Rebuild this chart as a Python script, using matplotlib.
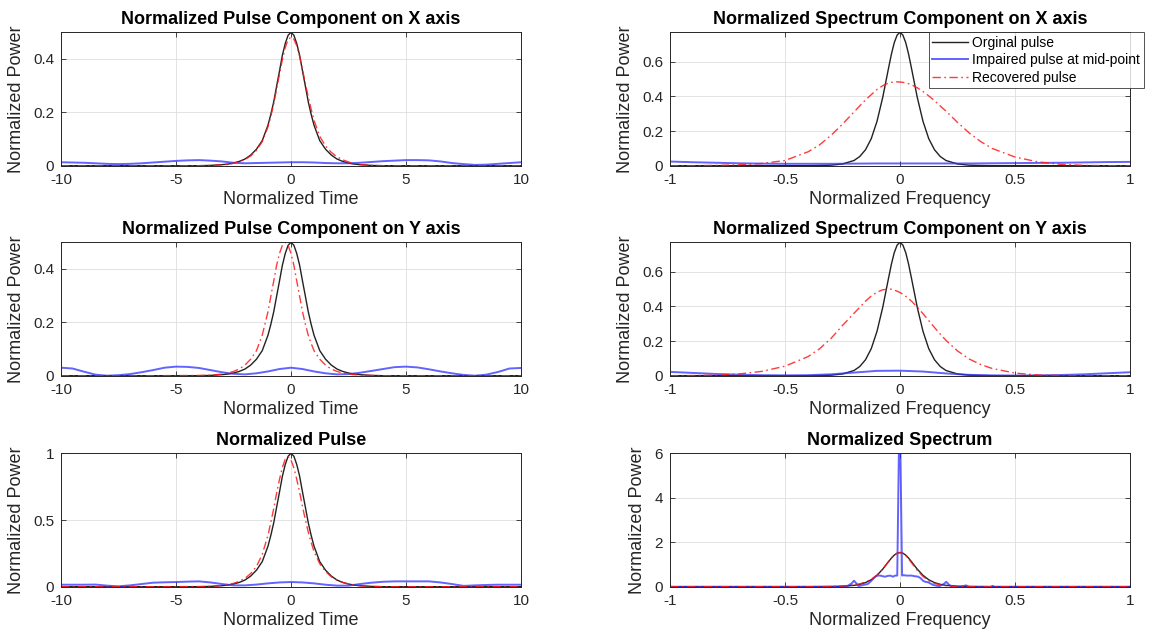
import matplotlib
matplotlib.use("Agg")
import matplotlib.pyplot as plt

plt.rcParams['font.family'] = ['Liberation Sans', 'DejaVu Sans']
plt.rcParams['axes.unicode_minus'] = False

# ---------------- time domain ----------------
t_grid = [-10, -6, -4, -3.5, -3, -2.75, -2.5, -2.25, -2, -1.75, -1.5, -1.25, -1,
          -0.875, -0.75, -0.625, -0.5, -0.375, -0.25, -0.125, 0,
          0.125, 0.25, 0.375, 0.5, 0.625, 0.75, 0.875, 1,
          1.25, 1.5, 1.75, 2, 2.25, 2.5, 2.75, 3, 3.5, 4, 6, 10]

pulse_x_orig = [0, 0, 0, 0.001, 0.004, 0.006, 0.01, 0.016, 0.025, 0.04, 0.062, 0.094, 0.152,
                0.193, 0.24, 0.298, 0.355, 0.414, 0.458, 0.489, 0.5,
                0.489, 0.458, 0.414, 0.355, 0.298, 0.24, 0.193, 0.152,
                0.094, 0.062, 0.04, 0.025, 0.016, 0.01, 0.006, 0.004, 0.001, 0, 0, 0]
pulse_x_rec = [0, 0, 0, 0.001, 0.003, 0.005, 0.009, 0.015, 0.023, 0.037, 0.058, 0.09, 0.146,
               0.186, 0.232, 0.288, 0.343, 0.398, 0.443, 0.472, 0.482,
               0.474, 0.45, 0.41, 0.36, 0.308, 0.258, 0.212, 0.17,
               0.11, 0.074, 0.05, 0.033, 0.022, 0.014, 0.008, 0.004, 0.001, 0, 0, 0]

pulse_y_orig = [0, 0, 0, 0.001, 0.004, 0.006, 0.01, 0.016, 0.025, 0.04, 0.062, 0.094, 0.152,
                0.193, 0.24, 0.298, 0.355, 0.414, 0.458, 0.489, 0.5,
                0.489, 0.458, 0.414, 0.355, 0.298, 0.24, 0.193, 0.152,
                0.094, 0.062, 0.04, 0.025, 0.016, 0.01, 0.006, 0.004, 0.001, 0, 0, 0]
pulse_y_rec = [0, 0, 0.001, 0.002, 0.006, 0.01, 0.016, 0.025, 0.04, 0.062, 0.094, 0.152, 0.24,
               0.298, 0.355, 0.414, 0.458, 0.489, 0.5, 0.489, 0.458,
               0.414, 0.355, 0.298, 0.24, 0.193, 0.152, 0.121, 0.094,
               0.062, 0.04, 0.025, 0.016, 0.01, 0.006, 0.004, 0.002, 0.001, 0, 0, 0]

pulse_orig = [0, 0, 0, 0.002, 0.008, 0.012, 0.02, 0.032, 0.05, 0.08, 0.124, 0.188, 0.304,
              0.386, 0.48, 0.596, 0.71, 0.828, 0.916, 0.978, 1.0,
              0.978, 0.916, 0.828, 0.71, 0.596, 0.48, 0.386, 0.304,
              0.188, 0.124, 0.08, 0.05, 0.032, 0.02, 0.012, 0.008, 0.002, 0, 0, 0]
pulse_rec = [0, 0, 0.001, 0.003, 0.009, 0.015, 0.025, 0.04, 0.063, 0.099, 0.152, 0.242, 0.386,
             0.484, 0.587, 0.702, 0.805, 0.895, 0.955, 0.975, 0.95,
             0.89, 0.805, 0.708, 0.6, 0.501, 0.41, 0.333, 0.264,
             0.172, 0.114, 0.075, 0.049, 0.032, 0.02, 0.012, 0.006, 0.002, 0, 0, 0]

# impaired pulse at the mid-point
t_imp = [-10, -9.5, -9, -8.5, -8, -7.5, -7, -6.5, -6, -5.5, -5, -4.5, -4, -3.5, -3, -2.5,
         -2, -1.5, -1, -0.5, 0, 0.5, 1, 1.5, 2, 2.5, 3, 3.5, 4, 4.5, 5, 5.5, 6, 6.5, 7,
         7.5, 8, 8.5, 9, 9.5, 10]
pulse_x_imp = [0.013, 0.012, 0.011, 0.009, 0.007, 0.006, 0.007, 0.009, 0.012, 0.015, 0.018,
               0.02, 0.021, 0.019, 0.016, 0.011, 0.009, 0.01, 0.011, 0.012, 0.013, 0.013,
               0.012, 0.01, 0.009, 0.009, 0.011, 0.014, 0.017, 0.019, 0.021, 0.021, 0.02,
               0.016, 0.01, 0.006, 0.003, 0.004, 0.007, 0.01, 0.013]
pulse_y_imp = [0.03, 0.027, 0.015, 0.004, 0.0, 0.002, 0.006, 0.013, 0.021, 0.03, 0.034,
               0.033, 0.029, 0.021, 0.013, 0.007, 0.005, 0.009, 0.016, 0.025, 0.03, 0.025,
               0.016, 0.009, 0.005, 0.006, 0.011, 0.018, 0.025, 0.032, 0.034, 0.031, 0.024,
               0.016, 0.009, 0.003, 0.0, 0.004, 0.014, 0.027, 0.029]
pulse_imp = [0.015, 0.015, 0.015, 0.016, 0.008, 0.003, 0.01, 0.02, 0.03, 0.033, 0.035,
             0.038, 0.04, 0.032, 0.02, 0.01, 0.01, 0.016, 0.025, 0.032, 0.035, 0.032,
             0.025, 0.015, 0.008, 0.008, 0.02, 0.03, 0.037, 0.04, 0.04, 0.04, 0.04,
             0.032, 0.02, 0.006, 0.01, 0.013, 0.015, 0.015, 0.015]

# ---------------- frequency domain ----------------
f_grid = [-1, -0.9, -0.8, -0.7, -0.6, -0.5, -0.4,
          -0.35, -0.3, -0.25, -0.2, -0.175, -0.15, -0.125, -0.1, -0.075, -0.05,
          -0.0375, -0.025, -0.0125, 0, 0.0125, 0.025, 0.0375,
          0.05, 0.075, 0.1, 0.125, 0.15, 0.175, 0.2, 0.25, 0.3, 0.35, 0.4,
          0.5, 0.6, 0.7, 0.8, 0.9, 1]

spec_x_orig = [0, 0, 0, 0, 0, 0, 0,
               0.001, 0.003, 0.01, 0.03, 0.053, 0.092, 0.156, 0.256, 0.395, 0.562,
               0.643, 0.71, 0.754, 0.77, 0.754, 0.71, 0.643,
               0.562, 0.395, 0.256, 0.156, 0.092, 0.053, 0.03, 0.01, 0.003, 0.001, 0,
               0, 0, 0, 0, 0, 0]
spec_x_rec = [0, 0, 0.002, 0.005, 0.013, 0.03, 0.08,
              0.12, 0.175, 0.24, 0.31, 0.345, 0.38, 0.41, 0.44, 0.462, 0.477,
              0.481, 0.484, 0.484, 0.483, 0.481, 0.478, 0.473,
              0.467, 0.45, 0.428, 0.403, 0.375, 0.345, 0.315, 0.25, 0.19, 0.14, 0.1,
              0.05, 0.022, 0.008, 0.002, 0, 0]

spec_y_orig = [0, 0, 0, 0, 0, 0, 0,
               0.001, 0.003, 0.01, 0.03, 0.053, 0.092, 0.156, 0.256, 0.395, 0.562,
               0.643, 0.71, 0.754, 0.77, 0.754, 0.71, 0.643,
               0.562, 0.395, 0.256, 0.156, 0.092, 0.053, 0.03, 0.01, 0.003, 0.001, 0,
               0, 0, 0, 0, 0, 0]
spec_y_rec = [0, 0.001, 0.003, 0.01, 0.025, 0.055, 0.11,
              0.155, 0.215, 0.29, 0.36, 0.395, 0.43, 0.46, 0.482, 0.496, 0.5,
              0.499, 0.494, 0.488, 0.48, 0.47, 0.458, 0.445,
              0.43, 0.396, 0.358, 0.318, 0.278, 0.24, 0.204, 0.143, 0.097, 0.065, 0.042,
              0.015, 0.004, 0.001, 0, 0, 0]

spec_orig = [0, 0, 0, 0, 0, 0, 0,
             0.002, 0.006, 0.02, 0.06, 0.106, 0.184, 0.312, 0.512, 0.79, 1.124,
             1.286, 1.42, 1.508, 1.54, 1.508, 1.42, 1.286,
             1.124, 0.79, 0.512, 0.312, 0.184, 0.106, 0.06, 0.02, 0.006, 0.002, 0,
             0, 0, 0, 0, 0, 0]
spec_rec = [0, 0, 0, 0, 0, 0, 0,
            0.003, 0.01, 0.03, 0.08, 0.13, 0.21, 0.33, 0.52, 0.8, 1.13,
            1.29, 1.42, 1.5, 1.53, 1.5, 1.4, 1.25,
            1.08, 0.74, 0.46, 0.27, 0.15, 0.08, 0.04, 0.012, 0.004, 0.001, 0,
            0, 0, 0, 0, 0, 0]

f_imp_c = [-1, -0.9, -0.8, -0.7, -0.6, -0.5, -0.4, -0.3, -0.2, -0.1, 0, 0.1, 0.2, 0.3,
           0.4, 0.5, 0.6, 0.7, 0.8, 0.9, 1]
spec_x_imp = [0.024, 0.02, 0.017, 0.014, 0.012, 0.011, 0.011, 0.011, 0.012, 0.013, 0.013,
              0.013, 0.013, 0.013, 0.014, 0.015, 0.016, 0.017, 0.019, 0.021, 0.022]
spec_y_imp = [0.022, 0.016, 0.01, 0.006, 0.003, 0.002, 0.003, 0.008, 0.018, 0.028, 0.029,
              0.024, 0.013, 0.005, 0.002, 0.001, 0.002, 0.004, 0.008, 0.014, 0.02]

f_imp = [-1, -0.5, -0.26, -0.23, -0.21, -0.2, -0.19, -0.18, -0.158, -0.14, -0.129, -0.108,
         -0.097, -0.086, -0.075, -0.065, -0.055, -0.043, -0.03, -0.022, -0.012, -0.005,
         0.002, 0.009, 0.014, 0.029, 0.05, 0.065, 0.079, 0.09, 0.1, 0.11, 0.122, 0.144,
         0.16, 0.172, 0.19, 0.201, 0.212, 0.223, 0.24, 0.26, 0.28, 0.287, 0.3, 0.395,
         0.402, 0.41, 1]
spec_imp = [0, 0, 0, 0.02, 0.15, 0.27, 0.15, 0.03, 0.08, 0.12, 0.22, 0.45, 0.5, 0.5, 0.47,
            0.45, 0.48, 0.5, 0.45, 0.5, 0.5, 5.97, 5.97, 0.5, 0.52, 0.5, 0.5, 0.47, 0.45,
            0.38, 0.27, 0.22, 0.2, 0.08, 0.04, 0.03, 0.12, 0.22, 0.1, 0.03, 0.01, 0, 0.04,
            0.06, 0, 0, 0.04, 0, 0]

legend_labels = ['Orginal pulse', 'Impaired pulse at mid-point', 'Recovered pulse']

# ---------------- styling ----------------
TXT = '#262626'
C_ORIG = '#222222'
C_IMP = '#2f2fff'
C_REC = '#ff1a1a'

W, H = 1152, 638
fig = plt.figure(figsize=(W / 100, H / 100), dpi=100)
fig.patch.set_facecolor('white')

col_left = [61, 670]
ax_w = 460
row_top = [32.3, 242.3, 453.3]
ax_h = 133.4


def make_axes(col, row):
    l = col_left[col] / W
    b = 1 - (row_top[row] + ax_h) / H
    return fig.add_axes([l, b, ax_w / W, ax_h / H])


def style(ax, xlim, xticks, ylim, yticks, title, xlabel):
    ax.set_xlim(*xlim)
    ax.set_ylim(*ylim)
    ax.set_xticks(xticks)
    ax.set_yticks(yticks)
    ax.set_xticklabels([('%g' % v) for v in xticks])
    ax.set_yticklabels([('%g' % v) for v in yticks])
    ax.grid(True, color='#dedede', linewidth=0.6)
    ax.set_axisbelow(True)
    for s in ax.spines.values():
        s.set_color(TXT)
        s.set_linewidth(0.7)
    ax.tick_params(direction='in', length=3.5, width=0.6, color=TXT,
                   labelcolor=TXT, labelsize=11, top=True, right=True, pad=5)
    ax.set_title(title, fontsize=13, fontweight='bold', color='black', pad=6)
    ax.set_xlabel(xlabel, fontsize=13, color=TXT, labelpad=3)
    ax.set_ylabel('Normalized Power', fontsize=13, color=TXT, labelpad=6)


def draw(ax, xo, yo, xi, yi, xr, yr):
    h1, = ax.plot(xo, yo, color=C_ORIG, linewidth=1.0, label=legend_labels[0])
    h2, = ax.plot(xi, yi, color=C_IMP, linewidth=1.4, alpha=0.75, label=legend_labels[1])
    h3, = ax.plot(xr, yr, color=C_REC, linewidth=1.0, alpha=0.85,
                  linestyle=(0, (6, 2.5, 1.2, 2.5)), label=legend_labels[2])
    return [h1, h2, h3]


t_ticks = [-10, -5, 0, 5, 10]
f_ticks = [-1, -0.5, 0, 0.5, 1]

ax = make_axes(0, 0)
draw(ax, t_grid, pulse_x_orig, t_imp, pulse_x_imp, t_grid, pulse_x_rec)
style(ax, (-10, 10), t_ticks, (0, 0.5), [0, 0.2, 0.4],
      'Normalized Pulse Component on X axis', 'Normalized Time')

ax = make_axes(1, 0)
handles = draw(ax, f_grid, spec_x_orig, f_imp_c, spec_x_imp, f_grid, spec_x_rec)
style(ax, (-1, 1), f_ticks, (0, 0.77), [0, 0.2, 0.4, 0.6],
      'Normalized Spectrum Component on X axis', 'Normalized Frequency')
leg = ax.legend(handles=handles, loc='upper right', bbox_to_anchor=(1.03, 1.0),
                borderaxespad=0, fontsize=10, frameon=True, fancybox=False,
                handlelength=2.6, handletextpad=0.3, borderpad=0.25, labelspacing=0.25)
leg.get_frame().set_edgecolor(TXT)
leg.get_frame().set_linewidth(0.7)
leg.set_zorder(5)

ax = make_axes(0, 1)
draw(ax, t_grid, pulse_y_orig, t_imp, pulse_y_imp, t_grid, pulse_y_rec)
style(ax, (-10, 10), t_ticks, (0, 0.5), [0, 0.2, 0.4],
      'Normalized Pulse Component on Y axis', 'Normalized Time')

ax = make_axes(1, 1)
draw(ax, f_grid, spec_y_orig, f_imp_c, spec_y_imp, f_grid, spec_y_rec)
style(ax, (-1, 1), f_ticks, (0, 0.77), [0, 0.2, 0.4, 0.6],
      'Normalized Spectrum Component on Y axis', 'Normalized Frequency')

ax = make_axes(0, 2)
draw(ax, t_grid, pulse_orig, t_imp, pulse_imp, t_grid, pulse_rec)
style(ax, (-10, 10), t_ticks, (0, 1), [0, 0.5, 1],
      'Normalized Pulse', 'Normalized Time')

ax = make_axes(1, 2)
draw(ax, f_grid, spec_orig, f_imp, spec_imp, f_grid, spec_rec)
style(ax, (-1, 1), f_ticks, (0, 6), [0, 2, 4, 6],
      'Normalized Spectrum', 'Normalized Frequency')

fig.savefig('out.png', dpi=100, facecolor='white')
